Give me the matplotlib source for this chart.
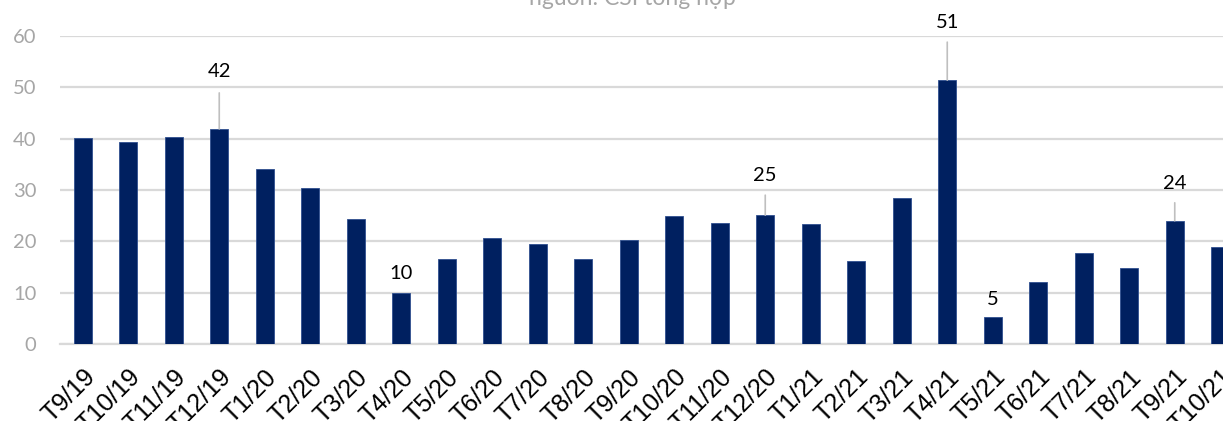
import matplotlib
matplotlib.use("Agg")
import matplotlib.pyplot as plt
import numpy as np

categories = ["T9/19", "T10/19", "T11/19", "T12/19", "T1/20", "T2/20", "T3/20", "T4/20",
              "T5/20", "T6/20", "T7/20", "T8/20", "T9/20", "T10/20", "T11/20", "T12/20",
              "T1/21", "T2/21", "T3/21", "T4/21", "T5/21", "T6/21", "T7/21", "T8/21",
              "T9/21", "T10/21"]
values = [40.2, 39.4, 40.4, 41.9, 34.1, 30.4, 24.4, 9.9, 16.6, 20.7, 19.5, 16.6, 20.3,
          25.0, 23.6, 25.1, 23.4, 16.2, 28.5, 51.4, 5.3, 12.1, 17.7, 14.8, 24.0, 18.9]
labelled = ["T12/19", "T4/20", "T12/20", "T4/21", "T5/21", "T9/21"]
label_texts = ["42", "10", "25", "51", "5", "24"]
yticks = [0, 10, 20, 30, 40, 50, 60]
source = "nguồn: CSI tổng hợp"

# layout (pixel offsets for labels above bars, leader line length)
label_offsets = {"T12/19": (57, 36), "T4/20": (20, 0), "T12/20": (40, 20),
                 "T4/21": (58, 38), "T5/21": (17, 0), "T9/21": (37, 18)}

W, H = 1223, 421
fig = plt.figure(figsize=(W / 100, H / 100), dpi=100)
left_px, right_px = 60, 1223
bottom_px, top_px = 344, 36
ax = fig.add_axes([left_px / W, (H - bottom_px) / H, (right_px - left_px) / W,
                   (bottom_px - top_px) / H])

x = np.arange(len(categories))
ax.bar(x, values, width=0.4, color="#002060", edgecolor="#2F4F8F", linewidth=0.6, zorder=3)

spacing = 45.5
ax.set_xlim(-0.5, -0.5 + (right_px - left_px) / spacing)
ax.set_ylim(0, 60)
ax.set_yticks(yticks)
ax.set_yticklabels([str(t) for t in yticks], color="#A6A6A6", fontsize=14.5, family="Lato")
ax.yaxis.grid(True, color="#D9D9D9", linewidth=1.6, zorder=0)
ax.set_axisbelow(True)
for s in ["top", "right", "left"]:
    ax.spines[s].set_visible(False)
ax.spines["bottom"].set_color("#D9D9D9")
ax.spines["bottom"].set_linewidth(1.6)
ax.tick_params(axis="both", length=0)
ax.tick_params(axis="y", pad=17)
ax.set_xticks(x)
ax.set_xticklabels(categories, rotation=45, ha="right", va="top", rotation_mode="anchor",
                   fontsize=18, family="Liberation Sans", color="black")
ax.tick_params(axis="x", pad=15)

for cat, txt in zip(labelled, label_texts):
    i = categories.index(cat)
    v = values[i]
    off, line = label_offsets[cat]
    if line > 0:
        ax.annotate("", xy=(i, v), xytext=(0, line), textcoords="offset pixels",
                    xycoords="data",
                    arrowprops=dict(arrowstyle="-", color="#BFBFBF", lw=1.2,
                                    shrinkA=0, shrinkB=0))
    ax.annotate(txt, xy=(i, v), xytext=(0, off), textcoords="offset pixels",
                ha="center", va="center", fontsize=14.5, family="Lato", color="black")

fig.text(632 / W, 1 - 5 / H, source, ha="center", va="baseline", fontsize=16.5,
         color="#A6A6A6", family="Lato")

fig.savefig("out.png", dpi=100)
